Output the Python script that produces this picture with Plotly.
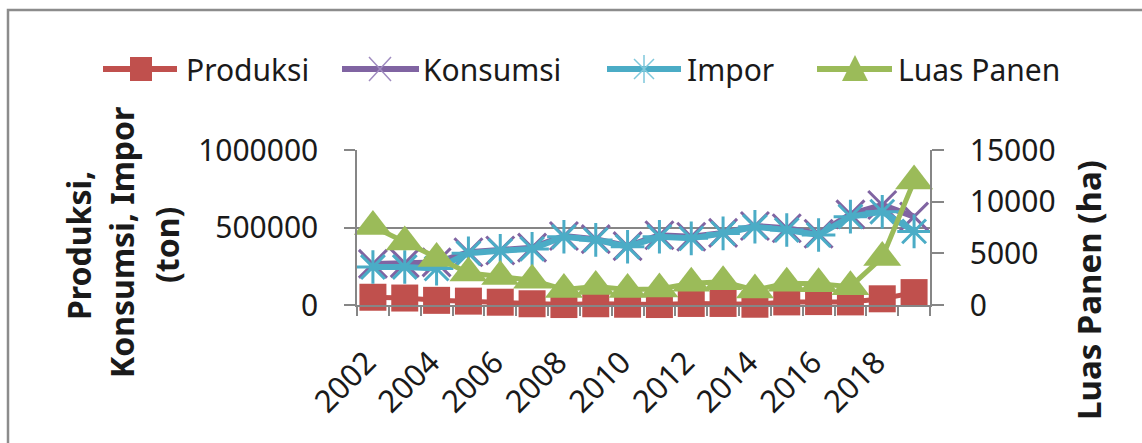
import plotly.graph_objects as go

# ---- data -------------------------------------------------------------
years = list(range(2002, 2020))
produksi = [50000, 45000, 30000, 25000, 18000, 8000, 3000, 8000, 5000,
            3000, 10000, 10000, 5000, 20000, 22000, 20000, 40000, 80000]
konsumsi = [265000, 270000, 275000, 340000, 352000, 370000, 445000, 425000, 380000,
            450000, 440000, 465000, 510000, 495000, 460000, 585000, 645000, 570000]
impor = [245000, 245000, 235000, 334000, 350000, 362000, 440000, 420000, 376000,
         440000, 430000, 462000, 505000, 484000, 452000, 570000, 602000, 475000]
luas_panen = [7600, 6100, 4500, 3100, 2750, 2400, 1500, 1800, 1500,
              1550, 2100, 2250, 1450, 2100, 2050, 1770, 4600, 12000]

left_ticks = [0, 500000, 1000000]
right_ticks = [0, 5000, 10000, 15000]
year_labels = [str(y) for y in range(2002, 2019, 2)]

C_PROD = "#C0504D"
C_KONS = "#8064A2"
C_IMP = "#4BACC6"
C_LUAS = "#9BBB59"
AXIS = "#868686"
TXT = "#1a1a1a"
FONT = "Noto Sans"

# ---- geometry (pixels) -------------------------------------------------
FIG_W, FIG_H = 1142, 443
L, R, T, B = 357, 930, 150, 305
PW, PH = R - L, B - T


def fx(x):
    return (x - L) / PW


def fy(y):
    return (B - y) / PH


fig = go.Figure()

fig.add_trace(go.Scatter(
    x=years, y=produksi, name="Produksi", mode="lines+markers",
    cliponaxis=False,
    line=dict(color=C_PROD, width=5),
    marker=dict(symbol="square", size=27, color=C_PROD),
))
fig.add_trace(go.Scatter(
    x=years, y=konsumsi, name="Konsumsi", mode="lines+markers",
    cliponaxis=False,
    line=dict(color=C_KONS, width=6),
    marker=dict(symbol="x-thin-open", size=28, color=C_KONS,
                line=dict(color=C_KONS, width=3)),
))
fig.add_trace(go.Scatter(
    x=years, y=impor, name="Impor", mode="lines+markers",
    cliponaxis=False,
    line=dict(color=C_IMP, width=6),
    marker=dict(symbol="asterisk-open", size=28, color=C_IMP,
                line=dict(color=C_IMP, width=3)),
))
fig.add_trace(go.Scatter(
    x=years, y=luas_panen, name="Luas Panen", mode="lines+markers",
    yaxis="y2", cliponaxis=False,
    line=dict(color=C_LUAS, width=5),
    marker=dict(symbol="triangle-up", size=33, color=C_LUAS),
))

tickfont = dict(family=FONT, size=30, color=TXT)

fig.update_layout(
    width=FIG_W, height=FIG_H,
    margin=dict(l=L, r=FIG_W - R, t=T, b=FIG_H - B, pad=0),
    paper_bgcolor="white", plot_bgcolor="white",
    showlegend=False,
    xaxis=dict(
        range=[2001.5, 2019.5],
        tickmode="array", tickvals=[int(v) for v in year_labels],
        ticktext=year_labels, tickangle=-45,
        ticks="", tickfont=dict(family=FONT, size=31, color=TXT),
        ticklabelstandoff=25, ticklabelshift=-6,
        showgrid=False, zeroline=False,
        showline=True, linecolor=AXIS, linewidth=1.5,
        minor=dict(tick0=2001.5, dtick=1, ticks="outside", ticklen=9,
                   tickcolor=AXIS, tickwidth=1.5, showgrid=False),
    ),
    yaxis=dict(
        range=[0, 1000000], tickmode="array", tickvals=left_ticks,
        ticktext=[str(v) for v in left_ticks],
        ticks="outside", ticklen=11, tickcolor=AXIS, tickwidth=1.5,
        ticklabelstandoff=20,
        tickfont=tickfont,
        showgrid=True, gridcolor=AXIS, gridwidth=1.5,
        zeroline=False,
        showline=True, linecolor=AXIS, linewidth=1.5,
    ),
    yaxis2=dict(
        range=[0, 15000], overlaying="y", side="right",
        tickmode="array", tickvals=right_ticks,
        ticktext=[str(v) for v in right_ticks],
        ticks="outside", ticklen=12, tickcolor=AXIS, tickwidth=1.5,
        ticklabelstandoff=20,
        tickfont=tickfont,
        showgrid=False, zeroline=False,
        showline=True, linecolor=AXIS, linewidth=1.5,
    ),
)

# ---- axis titles ---------------------------------------------------------
title_font = dict(family=FONT, size=32, color=TXT)
left_title = [("Produksi,", 78, 246), ("Konsumsi, Impor", 121, 243), ("(ton)", 166, 245)]
for text, cx, cy in left_title:
    fig.add_annotation(text=f"<b>{text}</b>", x=fx(cx), y=fy(cy),
                       xref="paper", yref="paper", showarrow=False,
                       textangle=-90, font=title_font,
                       xanchor="center", yanchor="middle")
fig.add_annotation(text="<b>Luas Panen (ha)</b>", x=fx(1088), y=fy(290),
                   xref="paper", yref="paper", showarrow=False,
                   textangle=-90, font=dict(family=FONT, size=33, color=TXT),
                   xanchor="center", yanchor="middle")

# ---- legend row ------------------------------------------------------------
LEG_Y = 69
legend_items = [
    ("Produksi", C_PROD, "square", 103, 177, 141, 184),
    ("Konsumsi", C_KONS, "x", 342, 419, 380, 421),
    ("Impor", C_IMP, "asterisk", 607, 681, 644, 685),
    ("Luas Panen", C_LUAS, "triangle", 817, 892, 855, 896),
]
shapes = []
for name, color, sym, x0, x1, cx, tx in legend_items:
    shapes.append(dict(type="line", xref="paper", yref="paper",
                       x0=fx(x0), x1=fx(x1), y0=fy(LEG_Y), y1=fy(LEG_Y),
                       line=dict(color=color, width=6)))
    anchor = dict(xref="paper", yref="paper", xsizemode="pixel", ysizemode="pixel",
                  xanchor=fx(cx), yanchor=fy(LEG_Y))
    if sym == "square":
        shapes.append(dict(type="rect", x0=-11, x1=11, y0=-12, y1=12,
                           fillcolor=color, line=dict(width=0), **anchor))
    elif sym == "triangle":
        shapes.append(dict(type="path", path="M-13,-12 L13,-12 L0,14 Z",
                           fillcolor=color, line=dict(width=0), **anchor))
    elif sym == "x":
        shapes.append(dict(type="path", path="M-11,-12 L11,12 M-11,12 L11,-12",
                           line=dict(color="#A08CC0", width=1.5), **anchor))
    else:
        shapes.append(dict(type="path",
                           path="M0,-14 L0,14 M-10,-10 L10,10 M-10,10 L10,-10",
                           line=dict(color="#7FC8DB", width=1.5), **anchor))
    fig.add_annotation(text=name, x=fx(tx), y=fy(LEG_Y), xref="paper", yref="paper",
                       showarrow=False, xanchor="left", yanchor="middle",
                       font=dict(family=FONT, size=30, color=TXT))

# outer chart frame
shapes.append(dict(type="rect", xref="paper", yref="paper",
                   x0=fx(8), x1=fx(1160), y0=fy(10), y1=fy(470),
                   line=dict(color="#8c8c8c", width=2.5), layer="below"))
fig.update_layout(shapes=shapes)

fig.write_html("out.html")
